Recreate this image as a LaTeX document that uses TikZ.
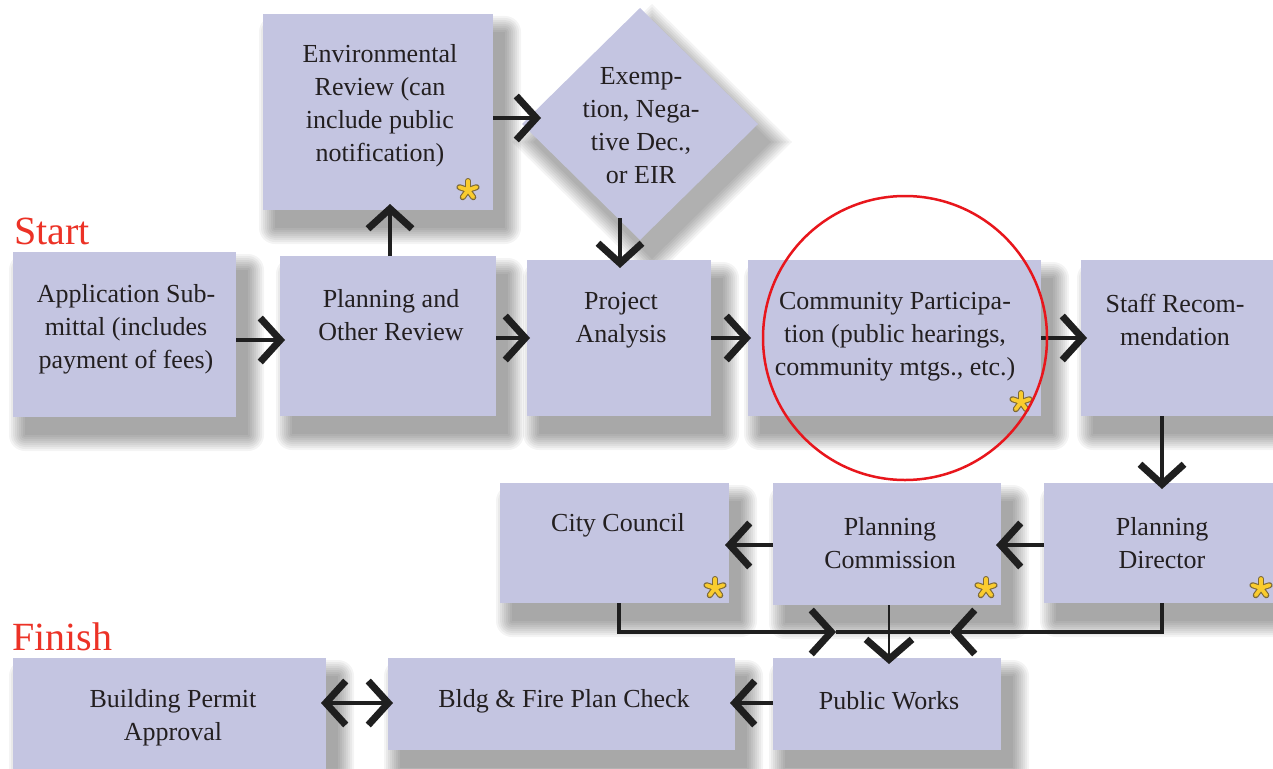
\documentclass[tikz,border=0pt]{standalone}
\usepackage{fontspec}
\setmainfont{Liberation Serif}
\newfontfamily\lserif{Liberation Serif}
\usetikzlibrary{arrows.meta,shapes.geometric,calc}
\definecolor{boxfill}{RGB}{196,197,225}
\definecolor{txt}{RGB}{35,31,32}
\definecolor{startred}{RGB}{236,50,38}
\definecolor{ringred}{RGB}{232,22,28}
\definecolor{astyel}{RGB}{250,204,46}
\definecolor{astedge}{RGB}{125,105,55}
\pgfdeclarelayer{back}
\pgfdeclarelayer{shadowlayer}
\pgfsetlayers{back,shadowlayer,main}
\newcommand\dropshadow[1]{%
  \foreach \r in {16,14,...,0}{%
    \fill[black, opacity=0.042, rounded corners=\r pt] ($(#1.north west)+(12-\r,18-\r)$) rectangle ($(#1.south east)+(12+\r,18+\r)$);
  }}
\newcommand\diamondshadow[1]{%
  \foreach \r in {22,19,...,0}{%
    \fill[black, opacity=0.042] ($(#1.north)+(12,18-\r)$) -- ($(#1.east)+(12+\r,18)$) -- ($(#1.south)+(12,18+\r)$) -- ($(#1.west)+(12-\r,18)$) -- cycle;
  }}
\begin{document}
\begin{tikzpicture}[x=1pt,y=-1pt,
  box/.style={draw=none, fill=boxfill, inner sep=0pt, outer sep=0pt},
  lbl/.style={font=\lserif\fontsize{26}{33}\selectfont, text=txt, align=center, inner sep=0pt},
  bigred/.style={font=\lserif\fontsize{40}{40}\selectfont, text=startred, anchor=base west, inner sep=0pt},
  arr/.style={draw=black!88, line width=4pt, -{Straight Barb[length=20pt,width=44pt,line width=7pt]}},
  thinarr/.style={draw=black!88, line width=2.5pt, -{Straight Barb[length=20pt,width=46pt,line width=7pt]}},
  darr/.style={draw=black!88, line width=4pt, {Straight Barb[length=20pt,width=44pt,line width=7pt]}-{Straight Barb[length=20pt,width=44pt,line width=7pt]}},
  astr/.pic={
    \foreach \a in {-90,-18,54,126,198} \draw[astedge, line width=6pt, line cap=round] (0,0) -- (\a:9);
    \foreach \a in {-90,-18,54,126,198} \draw[astyel, line width=3.8pt, line cap=round] (0,0) -- (\a:9);
  }
]
\useasboundingbox (0,0) rectangle (1273,768);
\begin{pgfonlayer}{back}
\fill[white] (0,0) rectangle (1273,768);
\end{pgfonlayer}

% boxes
\node[box, minimum width=230pt, minimum height=196pt] (env) at (378,112) {};
\node[box, shape=diamond, minimum width=236pt, minimum height=232pt] (dia) at (640,124) {};
\node[box, minimum width=223pt, minimum height=165pt] (app) at (124.5,334.5) {};
\node[box, minimum width=216pt, minimum height=160pt] (plan) at (388,336) {};
\node[box, minimum width=184pt, minimum height=156pt] (proj) at (619,338) {};
\node[box, minimum width=293pt, minimum height=156pt] (comm) at (894.5,338) {};
\node[box, minimum width=209pt, minimum height=156pt] (staff) at (1185.5,338) {};
\node[box, minimum width=229pt, minimum height=120pt] (city) at (614.5,543) {};
\node[box, minimum width=228pt, minimum height=122pt] (commission) at (887,544) {};
\node[box, minimum width=246pt, minimum height=120pt] (director) at (1167,543) {};
\node[box, minimum width=313pt, minimum height=132pt] (bpa) at (169.5,724) {};
\node[box, minimum width=347pt, minimum height=92pt] (bldg) at (561.5,704) {};
\node[box, minimum width=228pt, minimum height=92pt] (pw) at (887,704) {};

\begin{pgfonlayer}{shadowlayer}
\foreach \n in {env,app,plan,proj,comm,staff,city,commission,director,bpa,bldg,pw} {\dropshadow{\n}}
\diamondshadow{dia}
\end{pgfonlayer}

% labels
\node[lbl] (envT) at (380,106) {Environmental\\Review (can\\include public\\notification)};
\node[lbl] (diaT) at (641,126) {Exemp-\\tion, Nega-\\tive Dec.,\\or EIR};
\node[lbl] (appT) at (126,329) {Application Sub-\\mittal (includes\\payment of fees)};
\node[lbl] (planT) at (391,315) {Planning and\\Other Review};
\node[lbl] (projT) at (621,320) {Project\\Analysis};
\node[lbl] (commT) at (895,337) {Community Participa-\\tion (public hearings,\\community mtgs., etc.)};
\node[lbl] (staffT) at (1175,320) {Staff Recom-\\mendation};
\node[lbl] (cityT) at (618,525) {City Council};
\node[lbl] (commissionT) at (890,543) {Planning\\Commission};
\node[lbl] (directorT) at (1162,543) {Planning\\Director};
\node[lbl] (bpaT) at (173,718) {Building Permit\\Approval};
\node[lbl] (bldgT) at (564,701) {Bldg \& Fire Plan Check};
\node[lbl] (pwT) at (889,701) {Public Works};

\node[bigred] (start) at (14,244) {Start};
\node[bigred] (finish) at (12,650) {Finish};

% asterisks
\pic at (468,190) {astr};
\pic at (1021,402) {astr};
\pic at (715,588) {astr};
\pic at (986,588) {astr};
\pic at (1261,588) {astr};

% connectors
\coordinate (joinL) at (836,632);
\coordinate (joinR) at (950,632);
\draw[arr] (app.east |- 0,340) -- ($(plan.west |- 0,340)+(5,0)$);
\draw[arr] (plan.north -| 390,0) -- ($(env.south -| 390,0)+(0,-6)$);
\draw[arr] (env.east |- 0,118) -- ($(dia.west |- 0,118)+(19,0)$);
\draw[arr] ($(dia.south -| 620,0)+(0,-22)$) -- ($(proj.north -| 620,0)+(0,8)$);
\draw[arr] (plan.east |- 0,338) -- ($(proj.west |- 0,338)+(3,0)$);
\draw[arr] (proj.east |- 0,338) -- ($(comm.west |- 0,338)+(3,0)$);
\draw[arr] (comm.east |- 0,338) -- ($(staff.west |- 0,338)+(6,0)$);
\draw[arr] (staff.south -| 1162,0) -- ($(director.north -| 1162,0)+(0,6)$);
\draw[arr] (director.west |- 0,545) -- ($(commission.east |- 0,545)+(-5,0)$);
\draw[arr] (commission.west |- 0,545) -- ($(city.east |- 0,545)+(-4,0)$);
\draw[draw=black!88, line width=4pt] (joinL) -- (joinR);
\draw[arr] (city.south -| 619,0) |- (joinL);
\draw[arr] (director.south -| 1162,0) |- (joinR);
\draw[thinarr] (commission.south -| 889,0) -- ($(pw.north -| 889,0)+(0,6)$);
\draw[arr] (pw.west |- 0,703) -- ($(bldg.east |- 0,703)+(-5,0)$);
\draw[darr] ($(bpa.east |- 0,703)+(-5,0)$) -- ($(bldg.west |- 0,703)+(5,0)$);

% highlight ring
\node[draw=ringred, line width=2.5pt, circle, minimum size=284pt, inner sep=0pt] (ring) at (905,338) {};
\end{tikzpicture}
\end{document}
